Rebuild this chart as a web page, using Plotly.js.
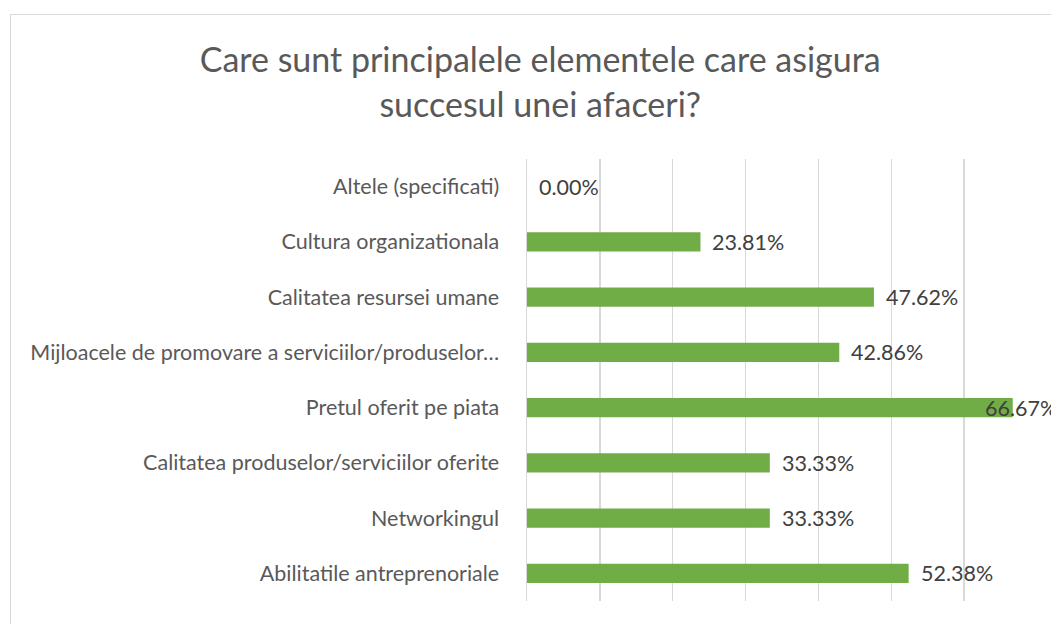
<!DOCTYPE html>
<html>
<head>
<meta charset="utf-8">
<script src="https://cdn.plot.ly/plotly-3.0.1.min.js"></script>
<style>
  html, body { margin: 0; padding: 0; background: #ffffff; overflow: hidden; }
  #chart { width: 1051px; height: 624px; position: absolute; left: 0; top: 0; }
  #frame { position: absolute; left: 10px; top: 14px; width: 1200px; height: 800px;
           border: 1.5px solid #d9d9d9; pointer-events: none; }
</style>
</head>
<body>
<div id="chart"></div>
<div id="frame"></div>
<script>
// Data (bottom to top as drawn)
const categories = [
  "Abilitatile antreprenoriale",
  "Networkingul",
  "Calitatea produselor/serviciilor oferite",
  "Pretul oferit pe piata",
  "Mijloacele de promovare a serviciilor/produselor…",
  "Calitatea resursei umane",
  "Cultura organizationala",
  "Altele (specificati)"
];
const values = [52.38, 33.33, 33.33, 66.67, 42.86, 47.62, 23.81, 0.00];
const valueLabels = values.map(v => v.toFixed(2) + "%");

const FONT = "Lato, 'Open Sans', sans-serif";

const trace = {
  type: "bar",
  orientation: "h",
  y: categories,
  x: values,
  marker: { color: "#70AD47" },
  hoverinfo: "x+y"
};

const annotations = values.map((v, i) => ({
  x: v, y: categories[i], xref: "x", yref: "y",
  text: valueLabels[i], showarrow: false,
  xanchor: "left", yanchor: "middle",
  xshift: v > 60 ? -30 : 10,
  font: { family: FONT, size: 21.5, color: "#404040" }
}));

const layout = {
  width: 1051, height: 624,
  paper_bgcolor: "#ffffff", plot_bgcolor: "#ffffff",
  margin: { l: 527, r: 14, t: 159, b: 23, pad: 0 },
  title: {
    text: "Care sunt principalele elementele care asigura<br>succesul unei afaceri?",
    x: 0.514, xanchor: "center", y: 0.884, yanchor: "top",
    font: { family: FONT, size: 34, color: "#595959", lineposition: "none" }
  },
  bargap: 0.655,
  showlegend: false,
  xaxis: {
    range: [0, 70], dtick: 10, tick0: 0,
    showgrid: true, gridcolor: "#d9d9d9", gridwidth: 1.5,
    zeroline: false, showline: false, showticklabels: false, ticks: "",
    fixedrange: true
  },
  yaxis: {
    type: "category",
    showgrid: false, zeroline: false,
    showline: true, linecolor: "#d9d9d9", linewidth: 1.5,
    ticks: "outside", ticklen: 22, tickcolor: "rgba(0,0,0,0)",
    tickfont: { family: FONT, size: 21.5, color: "#595959" },
    automargin: false, fixedrange: true
  },
  annotations: annotations
};

Plotly.newPlot("chart", [trace], layout, { displayModeBar: false, staticPlot: true });
</script>
</body>
</html>
